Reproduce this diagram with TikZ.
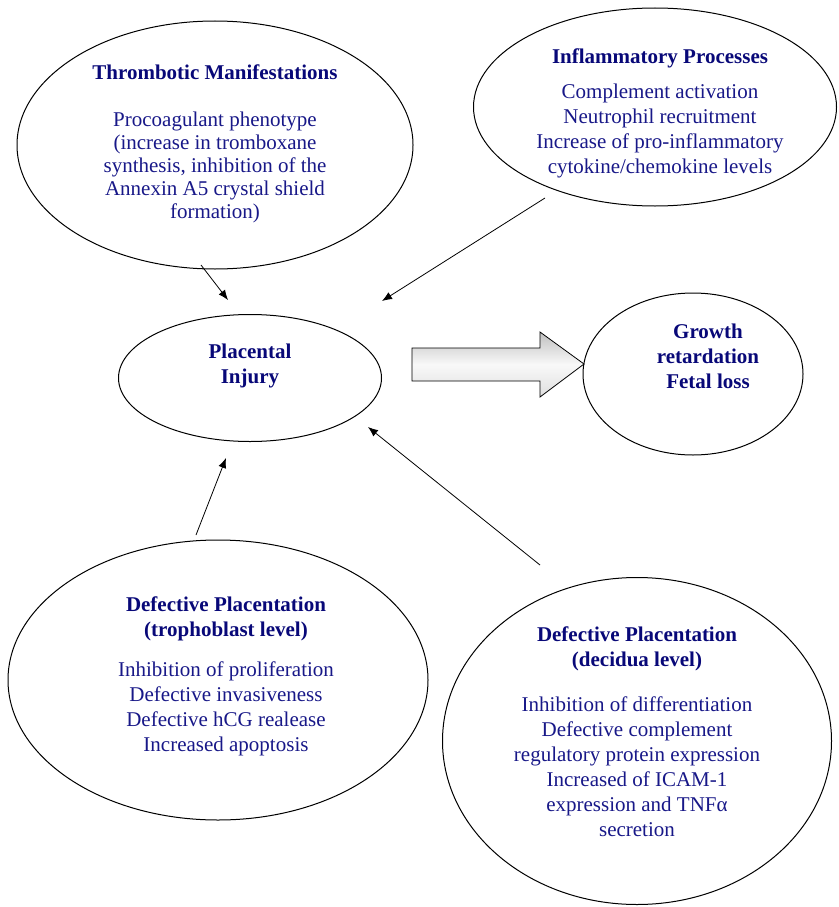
\documentclass[tikz,border=0pt]{standalone}
\usepackage{fontspec}
\setmainfont{Liberation Serif}
\usetikzlibrary{arrows.meta,shapes.geometric}
\definecolor{titleblue}{RGB}{8,8,120}
\definecolor{bodyblue}{RGB}{24,24,136}
\tikzset{blob/.style={draw,ellipse,line width=1pt,inner sep=0pt},
  txt/.style={align=center,text=bodyblue,font=\fontsize{21}{25}\selectfont},
  hd/.style={font=\fontsize{21}{25}\selectfont\bfseries,text=titleblue},
  link/.style={-{Latex[length=10pt,width=8pt]},line width=0.8pt}}
\begin{document}
\begin{tikzpicture}[x=1pt,y=-1pt]
\useasboundingbox (0,0) rectangle (838,907);
\node[blob,minimum width=396pt,minimum height=248pt] (thromb) at (215,145) {};
\node[blob,minimum width=363pt,minimum height=198pt] (inflam) at (655,107) {};
\node[blob,minimum width=263pt,minimum height=127pt] (injury) at (250,378) {};
\node[blob,minimum width=220pt,minimum height=162pt] (loss) at (693,374) {};
\node[blob,minimum width=420pt,minimum height=280pt] (troph) at (218,680) {};
\node[blob,minimum width=389pt,minimum height=327pt] (decid) at (637,741) {};
\node[txt,font=\fontsize{21}{23}\selectfont] (thrombtxt) at (215,144) {\textcolor{titleblue}{\bfseries Thrombotic Manifestations}\\[24pt]Procoagulant phenotype\\(increase in tromboxane\\synthesis, inhibition of the\\Annexin A5 crystal shield\\formation)};
\node[txt] (inflamtxt) at (660,113) {\textcolor{titleblue}{\bfseries Inflammatory Processes}\\[10pt]Complement activation\\Neutrophil recruitment\\Increase of pro-inflammatory\\cytokine/chemokine levels};
\node[txt,hd] (injurytxt) at (250,366) {Placental\\Injury};
\node[txt,hd] (losstxt) at (708,356) {Growth\\retardation\\Fetal loss};
\node[txt] (trophtxt) at (226,676) {\textcolor{titleblue}{\bfseries Defective Placentation}\\\textcolor{titleblue}{\bfseries (trophoblast level)}\\[15pt]Inhibition of proliferation\\Defective invasiveness\\Defective hCG realease\\Increased apoptosis};
\node[txt] (decidtxt) at (637,732) {\textcolor{titleblue}{\bfseries Defective Placentation}\\\textcolor{titleblue}{\bfseries (decidua level)}\\[20pt]Inhibition of differentiation\\Defective complement\\regulatory protein expression\\Increased of ICAM-1\\expression and TNFα\\secretion};
\coordinate (a1) at (201,265); \coordinate (b1) at (228,300);
\coordinate (a2) at (545,198); \coordinate (b2) at (382,301);
\coordinate (a3) at (196,535); \coordinate (b3) at (226,458);
\coordinate (a4) at (540,565); \coordinate (b4) at (368,427);
\draw[link] (a1)--(b1);
\draw[link] (a2)--(b2);
\draw[link] (a3)--(b3);
\draw[link] (a4)--(b4);
\draw[line width=0.8pt,top color=gray!50,bottom color=gray!25,middle color=gray!5] (412,348)--(540,348)--(540,332)--(584,364)--(540,397)--(540,381)--(412,381)--cycle;
\end{tikzpicture}
\end{document}
